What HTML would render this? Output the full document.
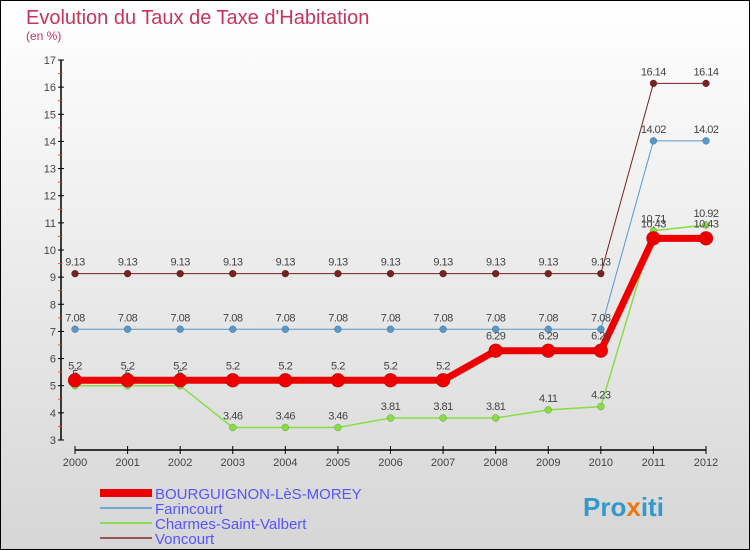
<!DOCTYPE html>
<html><head><meta charset="utf-8"><style>
body{margin:0}
svg{display:block;font-family:"Liberation Sans",sans-serif}
</style></head><body>
<svg id="c" width="750" height="550" viewBox="0 0 750 550">
<defs><linearGradient id="bg" x1="0" y1="0" x2="0" y2="1"><stop offset="0" stop-color="#ffffff"/><stop offset="1" stop-color="#d6d6d6"/></linearGradient></defs>
<rect x="0.5" y="0.5" width="749" height="549" fill="url(#bg)" stroke="#000"/>
<text x="26" y="24" font-size="20" fill="#c8345c">Evolution du Taux de Taxe d'Habitation</text>
<text x="26" y="40" font-size="12" fill="#c8345c">(en %)</text>
<g id="axes"></g><g id="series"></g>
<g>
<rect x="100" y="489" width="52" height="8" fill="#e00"/>
<text x="155" y="499" font-size="15" fill="#5555ff">BOURGUIGNON-LèS-MOREY</text>
<rect x="100" y="507" width="52" height="2" fill="#6fa8d0"/>
<text x="155" y="514" font-size="15" fill="#5555ff">Farincourt</text>
<rect x="100" y="522" width="52" height="2" fill="#88dd55"/>
<text x="155" y="529" font-size="15" fill="#5555ff">Charmes-Saint-Valbert</text>
<rect x="100" y="537" width="52" height="2" fill="#995555"/>
<text x="155" y="544" font-size="15" fill="#5555ff">Voncourt</text>
</g>
<text x="583" y="516" font-size="26" font-weight="bold" fill="#3399cc">Pro<tspan fill="#ee7711">x</tspan>iti</text>
</svg>
<script>
const years=[2000,2001,2002,2003,2004,2005,2006,2007,2008,2009,2010,2011,2012];
const bourg=[5.2,5.2,5.2,5.2,5.2,5.2,5.2,5.2,6.29,6.29,6.29,10.43,10.43];
const farin=[7.08,7.08,7.08,7.08,7.08,7.08,7.08,7.08,7.08,7.08,7.08,14.02,14.02];
const charm=[5,5,5,3.46,3.46,3.46,3.81,3.81,3.81,4.11,4.23,10.71,10.92];
const vonc=[9.13,9.13,9.13,9.13,9.13,9.13,9.13,9.13,9.13,9.13,9.13,16.14,16.14];
const yTicks=[3,4,5,6,7,8,9,10,11,12,13,14,15,16,17];
const NS='http://www.w3.org/2000/svg';
const X=i=>75+i*(706-75)/(years.length-1);
const Y=v=>440-(v-3)*(380/14);
function mk(t,a,p){const e=document.createElementNS(NS,t);for(const k in a)e.setAttribute(k,a[k]);p.appendChild(e);return e;}
const ax=document.getElementById('axes');
let l=mk('line',{x1:61,y1:Y(17),x2:61,y2:Y(3),stroke:'#000','stroke-width':1.5},ax);


l=mk('line',{x1:75,y1:450,x2:706,y2:450,stroke:'#000','stroke-width':1.5},ax);


yTicks.forEach(v=>{
 mk('line',{x1:58,y1:Y(v),x2:64,y2:Y(v),stroke:'#000'},ax);
 if(v<17) mk('line',{x1:58,y1:Y(v+0.5),x2:61,y2:Y(v+0.5),stroke:'#f44'},ax);
 const t=mk('text',{x:56,y:Y(v)+4,'font-size':11,fill:'#444','text-anchor':'end'},ax);t.textContent=v;
 
 
});
years.forEach((y,i)=>{
 mk('line',{x1:X(i),y1:446,x2:X(i),y2:454,stroke:'#000'},ax);
 const t=mk('text',{x:X(i),y:466,'font-size':11,fill:'#444','text-anchor':'middle'},ax);t.textContent=y;
 
 
});
const sg=document.getElementById('series');
function series(vals,color,w,r,name,dy){
 const g=mk('g',{},sg);
 
 
 mk('polyline',{points:vals.map((v,i)=>X(i)+','+Y(v)).join(' '),fill:'none',stroke:color,'stroke-width':w},g);
 vals.forEach((v,i)=>{
  const c=mk('circle',{cx:X(i),cy:Y(v),r:r,fill:color,stroke:'rgba(0,0,0,0.3)','stroke-width':0.5},g);
  
  
  const t=mk('text',{x:X(i),y:Y(v)-dy,'font-size':11,fill:'#444','text-anchor':'middle','letter-spacing':'-0.5'},g);t.textContent=v;
 });
}
series(vonc,'#772222',1,3.5,'voncourt-line',8);
series(farin,'#5599cc',1,3.5,'farincourt-line',8);
series(charm,'#88dd44',1.5,3.5,'charmes-line',8);
series(bourg,'#ee0000',7,7,'bourguignon-line',11);
</script>
</body></html>
